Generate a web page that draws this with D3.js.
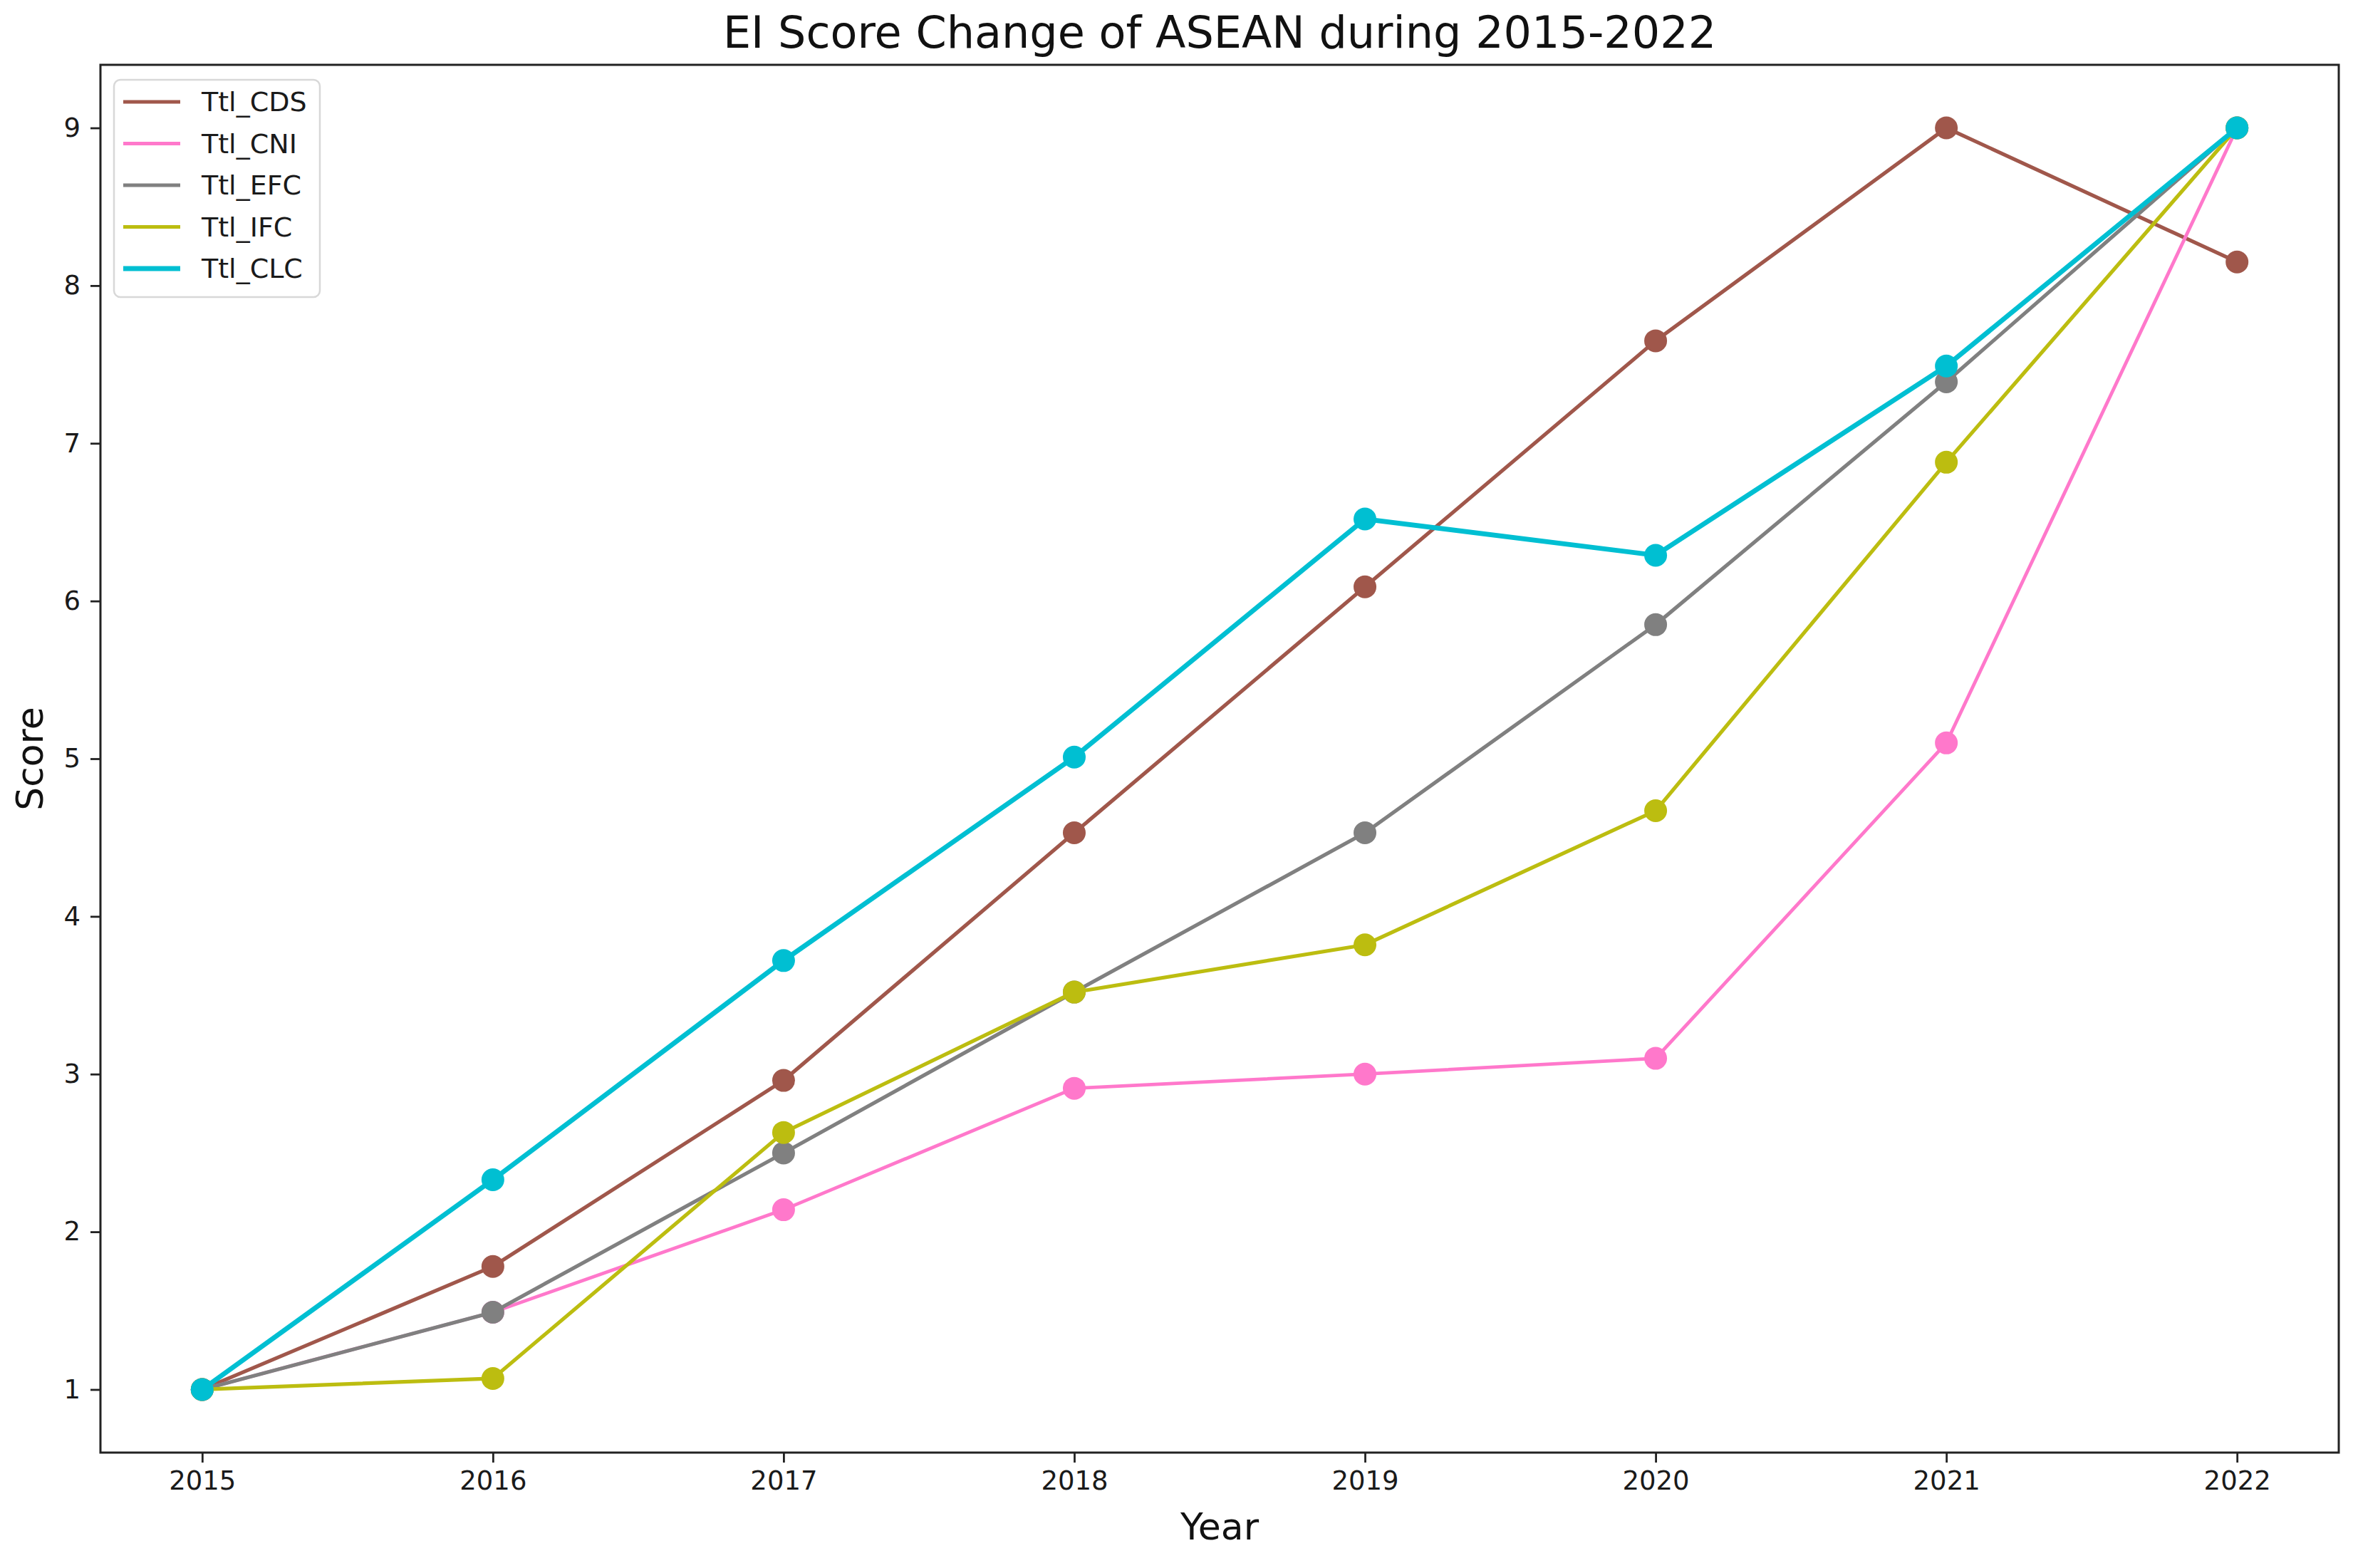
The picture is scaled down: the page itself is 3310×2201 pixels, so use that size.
<!DOCTYPE html>
<html>
<head>
<meta charset="utf-8">
<script src="https://cdn.jsdelivr.net/npm/d3@7"></script>
<style>
  body { margin: 0; background: #fff; }
  svg { font-family: "DejaVu Sans", sans-serif; }
</style>
</head>
<body>
<svg id="chart"></svg>
<script>
// data
const years = [2015, 2016, 2017, 2018, 2019, 2020, 2021, 2022];
const ttlCDS = [1, 1.78, 2.96, 4.53, 6.09, 7.65, 9, 8.15];
const ttlCNI = [1, 1.49, 2.14, 2.91, 3.0, 3.1, 5.1, 9];
const ttlEFC = [1, 1.49, 2.5, 3.52, 4.53, 5.85, 7.39, 9];
const ttlIFC = [1, 1.07, 2.63, 3.52, 3.82, 4.67, 6.88, 9];
const ttlCLC = [1, 2.33, 3.72, 5.01, 6.52, 6.29, 7.49, 9];
const yTicks = [1, 2, 3, 4, 5, 6, 7, 8, 9];

const series = [
  { name: "Ttl_CDS", values: ttlCDS, color: "#a0574b", lw: 5.2 },
  { name: "Ttl_CNI", values: ttlCNI, color: "#ff78cb", lw: 4.8 },
  { name: "Ttl_EFC", values: ttlEFC, color: "#808080", lw: 5.2 },
  { name: "Ttl_IFC", values: ttlIFC, color: "#bcbd10", lw: 5.2 },
  { name: "Ttl_CLC", values: ttlCLC, color: "#00bfd2", lw: 6.8 }
];

const W = 3310, H = 2201;
const margin = { top: 91, right: 27, bottom: 162, left: 141 };
const width = W - margin.left - margin.right;
const height = H - margin.top - margin.bottom;

const svg = d3.select("#chart").attr("width", W).attr("height", H);
const g = svg.append("g").attr("transform", `translate(${margin.left},${margin.top})`);

const x = d3.scaleLinear().domain([2014.65, 2022.35]).range([0, width]);
const y = d3.scaleLinear().domain([0.6, 9.4]).range([height, 0]);

// axes
const xAxis = g.append("g")
  .attr("transform", `translate(0,${height})`)
  .call(d3.axisBottom(x).tickValues(years).tickFormat(d3.format("d")).tickSize(14).tickPadding(12));
const yAxis = g.append("g")
  .call(d3.axisLeft(y).tickValues(yTicks).tickSize(14).tickPadding(14));
[xAxis, yAxis].forEach(a => {
  a.select(".domain").remove();
  a.selectAll(".tick line").attr("stroke", "#222").attr("stroke-width", 2.8);
  a.selectAll(".tick text").attr("fill", "#1a1a1a").style("font-size", "37px").style("font-family", "DejaVu Sans");
});

// lines and markers
const line = d3.line().x((d, i) => x(years[i])).y(d => y(d));
series.forEach(s => {
  g.append("path")
    .datum(s.values)
    .attr("fill", "none")
    .attr("stroke", s.color)
    .attr("stroke-width", s.lw)
    .attr("d", line);
  g.selectAll(null)
    .data(s.values)
    .enter().append("circle")
    .attr("cx", (d, i) => x(years[i]))
    .attr("cy", d => y(d))
    .attr("r", 16)
    .attr("fill", s.color);
});

// frame
g.append("rect")
  .attr("width", width).attr("height", height)
  .attr("fill", "none").attr("stroke", "#222").attr("stroke-width", 3);

// title and axis labels
svg.append("text")
  .attr("x", margin.left + width / 2).attr("y", 67)
  .attr("text-anchor", "middle")
  .style("font-size", "62px").attr("fill", "#111")
  .text("EI Score Change of ASEAN during 2015-2022");
svg.append("text")
  .attr("x", margin.left + width / 2).attr("y", 2161)
  .attr("text-anchor", "middle")
  .style("font-size", "52px").attr("fill", "#111")
  .text("Year");
svg.append("text")
  .attr("transform", `translate(60,${margin.top + height / 2}) rotate(-90)`)
  .attr("text-anchor", "middle")
  .style("font-size", "52px").attr("fill", "#111")
  .text("Score");

// legend
const leg = svg.append("g").attr("transform", "translate(160,112)");
leg.append("rect")
  .attr("width", 289).attr("height", 305)
  .attr("rx", 9)
  .attr("fill", "#fff").attr("fill-opacity", 0.85)
  .attr("stroke", "#d8d8d8").attr("stroke-width", 2.5);
series.forEach((s, i) => {
  const yy = 31 + i * 58.5;
  leg.append("line")
    .attr("x1", 13).attr("x2", 93)
    .attr("y1", yy).attr("y2", yy)
    .attr("stroke", s.color).attr("stroke-width", s.lw);
  leg.append("text")
    .attr("x", 123).attr("y", yy + 13)
    .style("font-size", "38px").attr("fill", "#1a1a1a")
    .text(s.name);
});
</script>
</body>
</html>
